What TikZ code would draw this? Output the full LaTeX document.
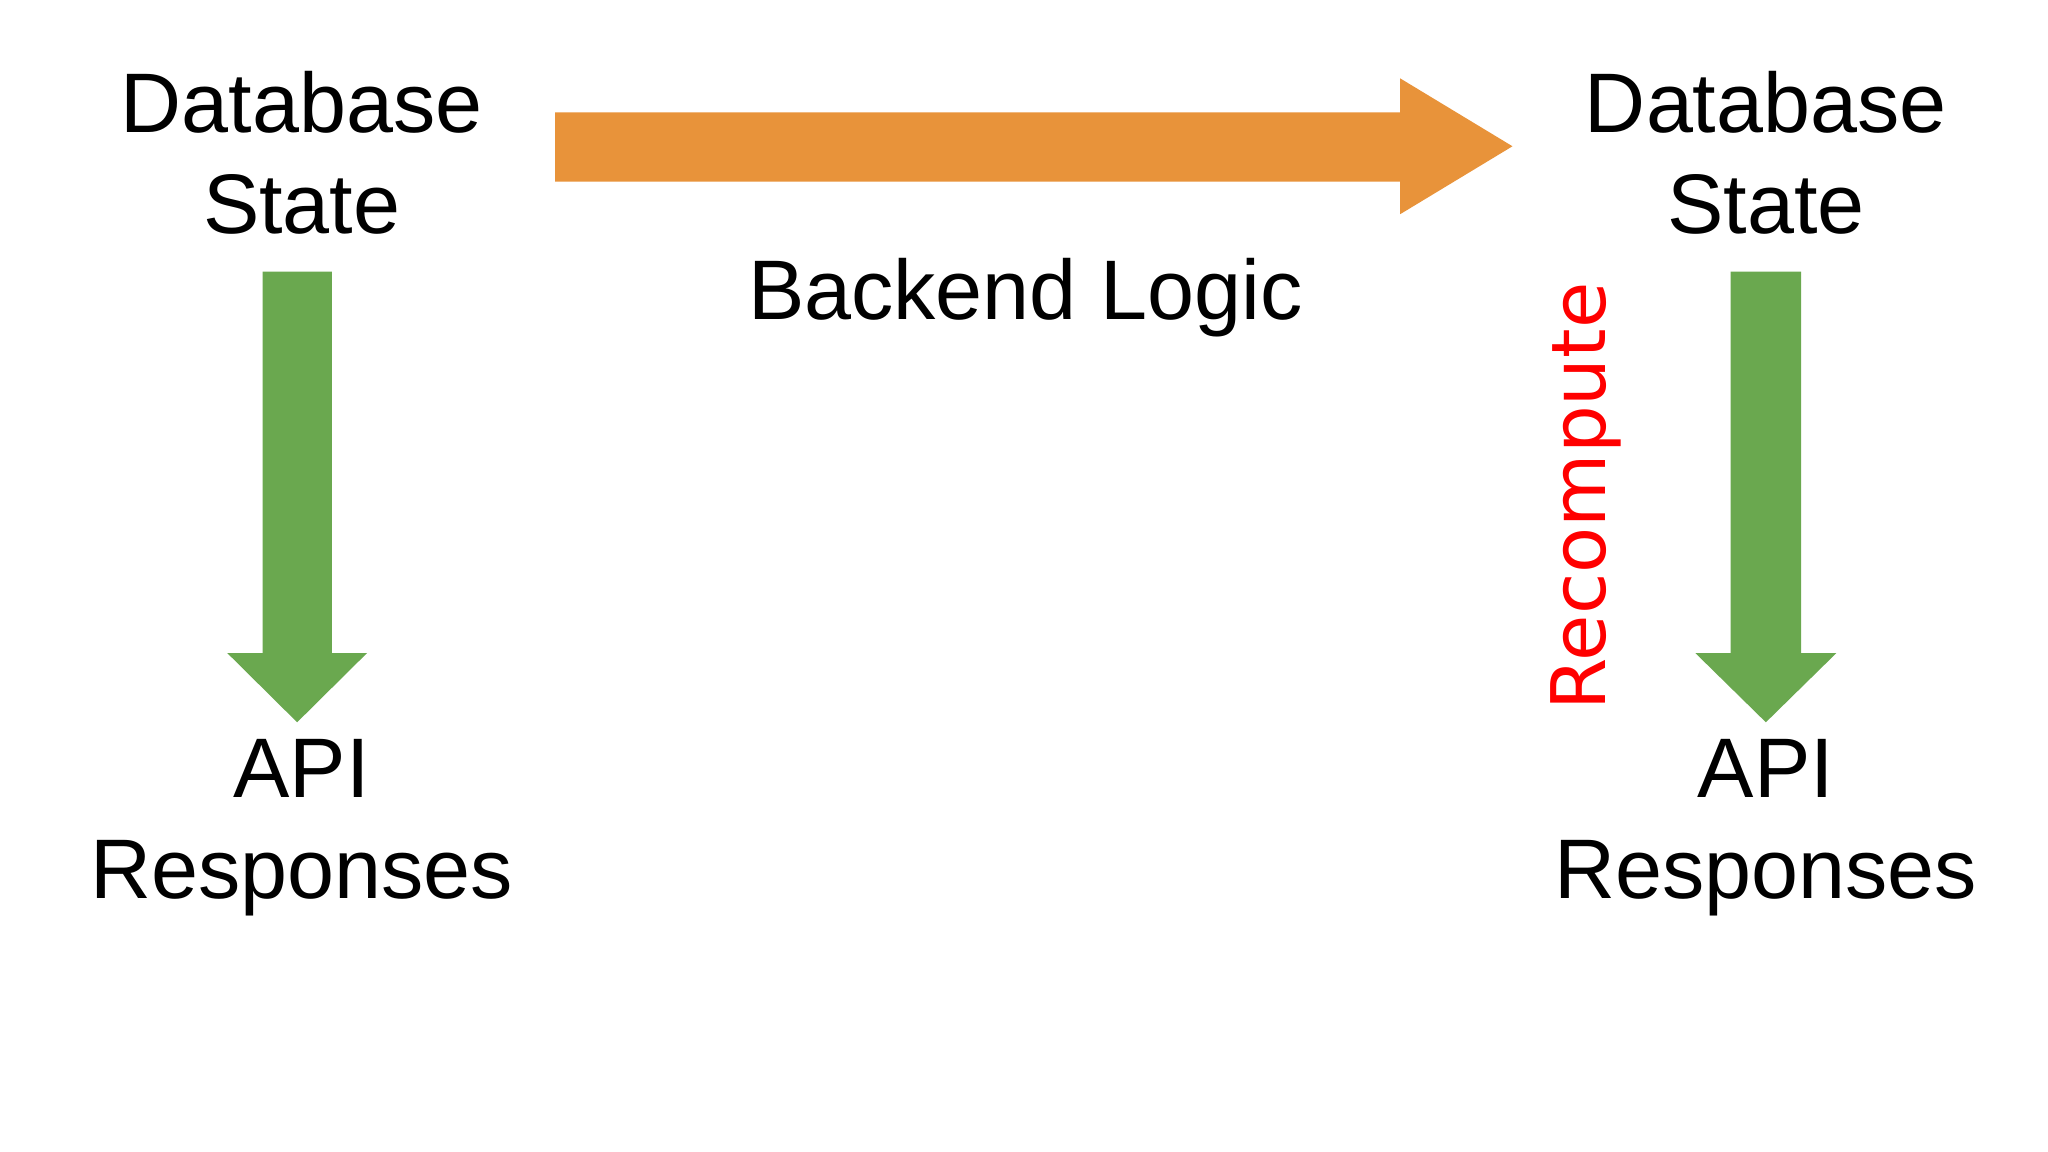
\documentclass[tikz,border=0pt]{standalone}
\usepackage{fontspec}
\setmainfont{Liberation Sans}
\newfontfamily\handfont{DejaVu Sans}
\definecolor{ggreen}{HTML}{6AA84F}
\definecolor{gorange}{HTML}{E8933A}
\begin{document}
\begin{tikzpicture}[x=0.01cm,y=-0.01cm,
  lbl/.style={font=\fontsize{18.4}{22}\selectfont,align=center,inner sep=0pt}]
\useasboundingbox (0,0) rectangle (1568,882);
\fill[white] (0,0) rectangle (1568,882);
% left column
\node[lbl] (db1) at (231,117) {Database\\State};
\node[lbl] (api1) at (231,634) {API\\Responses};
\fill[ggreen] (201,208) -- (254,208) -- (254,500) -- (281,500) -- (227.5,553) -- (174,500) -- (201,500) -- cycle;
% right column
\node[lbl] (db2) at (1352,117) {Database\\State};
\node[lbl] (api2) at (1352,634) {API\\Responses};
\fill[ggreen] (1325,208) -- (1379,208) -- (1379,500) -- (1406,500) -- (1352,553) -- (1298,500) -- (1325,500) -- cycle;
% orange arrow
\fill[gorange] (425,86) -- (1072,86) -- (1072,60) -- (1158,112) -- (1072,164) -- (1072,139) -- (425,139) -- cycle;
\node[lbl] (bl) at (785,228) {Backend Logic};
\node[inner sep=0pt,text=red,rotate=90,font=\handfont\fontsize{16.4}{20}\selectfont] (rc) at (1214,380) {Recompute};
\end{tikzpicture}
\end{document}
